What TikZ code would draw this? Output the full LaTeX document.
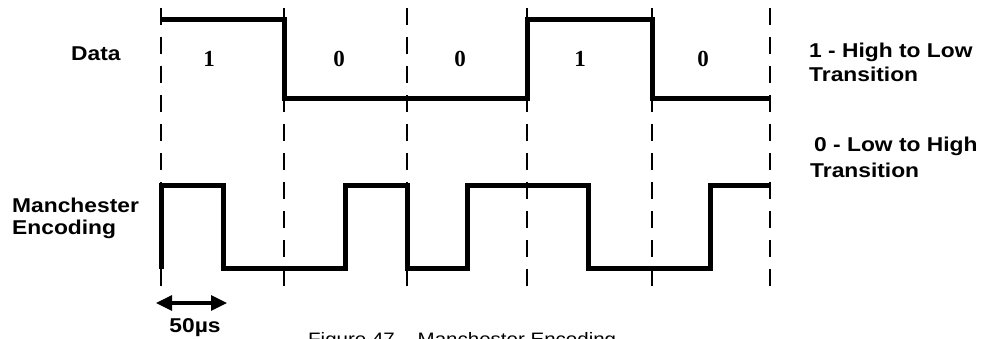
\documentclass[tikz,border=0pt]{standalone}
\usepackage{fontspec}
\newfontfamily\labfont{Liberation Sans}[FakeStretch=1.14]
\newfontfamily\digfont{Liberation Serif}
\usetikzlibrary{arrows.meta}
\tikzset{
  wave/.style={line width=5pt, line join=miter, line cap=butt},
  gridline/.style={line width=2.8pt, dash pattern=on 17pt off 12pt},
  lab/.style={font=\labfont\bfseries\fontsize{20}{24}\selectfont, inner sep=0pt, align=left},
  bit/.style={font=\digfont\bfseries\fontsize{23}{26}\selectfont, inner sep=0pt, anchor=base},
  capt/.style={font=\labfont\fontsize{18}{22}\selectfont, inner sep=0pt, anchor=base west},
  dim/.style={line width=3.2pt, {Triangle[length=16pt,width=15pt]}-{Triangle[length=16pt,width=15pt]}}
}
\begin{document}
\begin{tikzpicture}[x=1pt,y=-1pt]
\clip (0,0) rectangle (986,339);
\fill[white] (0,0) rectangle (986,339);
% bit boundaries
\foreach \i/\x in {0/161,1/284,2/407,3/527,4/652,5/770}{
  \coordinate (t\i) at (\x,8);
  \coordinate (b\i) at (\x,292);
  \draw[gridline] (t\i) -- (b\i);
}
% data waveform
\coordinate (d0) at (161,20);
\coordinate (d1) at (284,20);
\coordinate (d2) at (284,99);
\coordinate (d3) at (527,99);
\coordinate (d4) at (527,20);
\coordinate (d5) at (652,20);
\coordinate (d6) at (652,99);
\coordinate (d7) at (770,99);
\draw[wave] (d0) -- (d1) -- (d2) -- (d3) -- (d4) -- (d5) -- (d6) -- (d7);
% manchester waveform
\coordinate (m0) at (161,269);
\coordinate (m1) at (161,186);
\coordinate (m2) at (223,186);
\coordinate (m3) at (223,269);
\coordinate (m4) at (345,269);
\coordinate (m5) at (345,186);
\coordinate (m6) at (407,186);
\coordinate (m7) at (407,269);
\coordinate (m8) at (467,269);
\coordinate (m9) at (467,186);
\coordinate (m10) at (588,186);
\coordinate (m11) at (588,269);
\coordinate (m12) at (710,269);
\coordinate (m13) at (710,186);
\coordinate (m14) at (770,186);
\draw[wave] (m0) -- (m1) -- (m2) -- (m3) -- (m4) -- (m5) -- (m6) -- (m7) -- (m8) -- (m9) -- (m10) -- (m11) -- (m12) -- (m13) -- (m14);
% bit values
\node[bit] (v1) at (209,67) {1};
\node[bit] (v2) at (339,67) {0};
\node[bit] (v3) at (460,67) {0};
\node[bit] (v4) at (580,67) {1};
\node[bit] (v5) at (703,67) {0};
% labels
\node[lab, anchor=base west] (data) at (71,61) {Data};
\node[lab, anchor=north west, font=\labfont\bfseries\fontsize{20}{22}\selectfont] (manch) at (12,198) {Manchester\\Encoding};
\node[lab, anchor=north west] (one) at (809,43) {1 - High to Low\\Transition};
\node[lab, anchor=north west, font=\labfont\bfseries\fontsize{20}{26}\selectfont] (zero) at (810,137) {\hspace*{4pt}0 - Low to High\\Transition};
% period arrow
\coordinate (aL) at (156,303);
\coordinate (aR) at (227,303);
\draw[dim] (aL) -- (aR);
\node[lab, anchor=base] (per) at (195,332) {50µs};
% caption (cut off at the bottom edge, as in the reference)
\node[capt] (cap) at (308,345) {Figure 47 – Manchester Encoding};
\end{tikzpicture}
\end{document}
